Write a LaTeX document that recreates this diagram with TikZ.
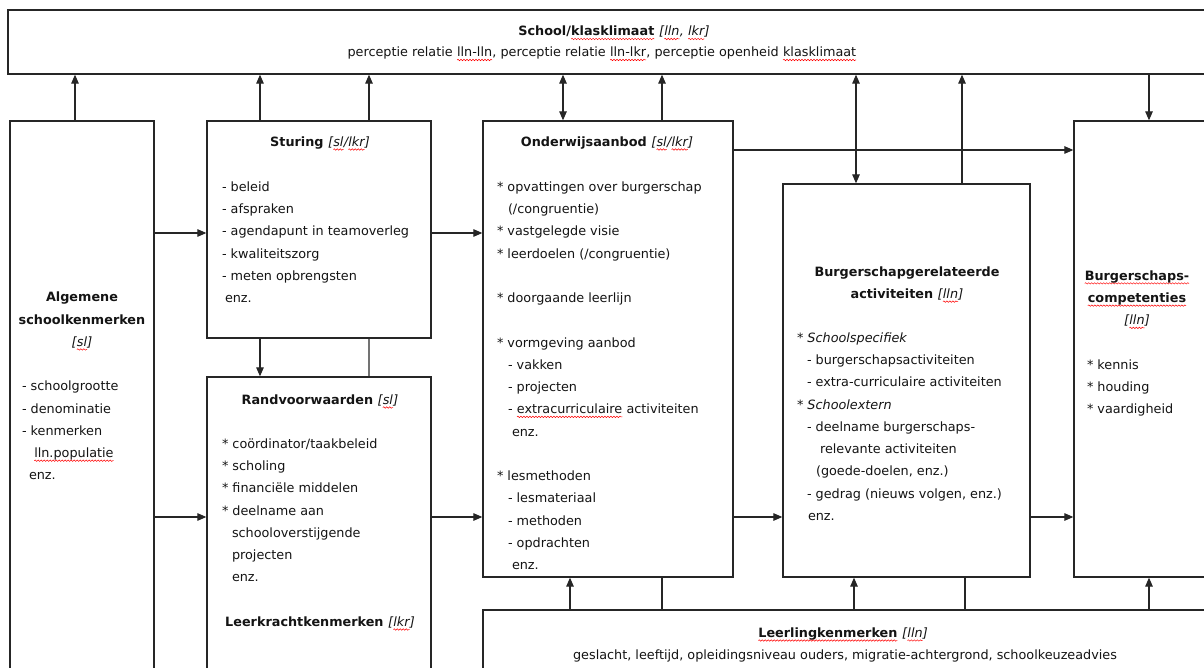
\documentclass[tikz,border=0pt]{standalone}
\usepackage{fontspec}
\setmainfont{DejaVu Sans}
\usepackage{xcolor}
\usetikzlibrary{arrows.meta,decorations.pathmorphing}
\definecolor{ink}{HTML}{141414}
\definecolor{edge}{HTML}{262626}
\tikzset{
  box/.style={draw=edge, line width=1.3pt, inner sep=0pt, fill=none},
  arr/.style={draw=edge, line width=1.2pt, -{Triangle[length=9pt,width=7.5pt]}},
  darr/.style={draw=edge, line width=1.2pt, {Triangle[length=9pt,width=7.5pt]}-{Triangle[length=9pt,width=7.5pt]}},
  plain/.style={draw=edge, line width=1.2pt},
  grayln/.style={draw=black!55, line width=1.2pt},
  wavy/.style={draw=red, line width=0.5pt, decorate, decoration={snake, amplitude=0.7pt, segment length=3pt}},
  txt/.style={inner sep=0pt, outer sep=0pt, align=left, text=ink, font=\fontsize{12.8}{22.25}\selectfont},
  ttl/.style={inner sep=0pt, outer sep=0pt, align=center, text=ink, font=\fontsize{12.8}{22.25}\selectfont\bfseries},
  ctr/.style={inner sep=0pt, outer sep=0pt, align=center, text=ink, font=\fontsize{12.8}{22.25}\selectfont}
}
\newcommand\spw[1]{\tikz[baseline=(spwn.base)]{\node[inner sep=0pt, outer sep=0pt, font={}, anchor=base] (spwn) at (0,0) {#1};\draw[wavy] ([yshift=-3pt]spwn.base west) -- ([yshift=-3pt]spwn.base east);}}
\newcommand\brk[1]{{\normalfont\itshape [#1]}}
\begin{document}
\begin{tikzpicture}[x=1pt,y=-1pt]
\path[use as bounding box, fill=white] (0,0) rectangle (1204,668);
\clip (0,0) rectangle (1204,668);

% boxes
\node[box, minimum width=1212pt, minimum height=64pt] (top) at (614,42) {};
\node[box, minimum width=144pt, minimum height=579pt] (alg) at (82,410.5) {};
\node[box, minimum width=224pt, minimum height=217pt] (stu) at (319,229.5) {};
\node[box, minimum width=224pt, minimum height=323pt] (rand) at (319,538.5) {};
\node[box, minimum width=250pt, minimum height=456pt] (ond) at (608,349) {};
\node[box, minimum width=247pt, minimum height=393pt] (bga) at (906.5,380.5) {};
\node[box, minimum width=146pt, minimum height=456pt] (bsc) at (1147,349) {};
\node[box, minimum width=737pt, minimum height=90pt] (lln) at (851.5,655) {};

% texts: top
\node[ttl, anchor=base] (ttop1) at (614,36) {School/\spw{klasklimaat} \brk{\spw{lln}, \spw{lkr}}};
\node[ctr, anchor=base] (ttop2) at (602,57) {perceptie relatie \spw{lln-lln}, perceptie relatie \spw{lln-lkr}, perceptie openheid \spw{klasklimaat}};

% Algemene
\node[ttl, anchor=north] (talg) at (82,286.4) {\strut Algemene\\schoolkenmerken\\\brk{\spw{sl}}};
\node[txt, anchor=north west] (lalg) at (22,375.4) {\strut - schoolgrootte\\- denominatie\\- kenmerken\\\hspace{12pt}\spw{lln.populatie}\\\hspace{7pt}enz.};

% Sturing
\node[ttl, anchor=base] (tstu) at (320,146.5) {Sturing \brk{\spw{sl}/\spw{lkr}}};
\node[txt, anchor=north west] (lstu) at (222,175.8) {\strut - beleid\\- afspraken\\- agendapunt in teamoverleg\\- kwaliteitszorg\\- meten opbrengsten\\\hspace{3pt}enz.};

% Randvoorwaarden
\node[ttl, anchor=base] (trand) at (320,404.5) {Randvoorwaarden \brk{\spw{sl}}};
\node[txt, anchor=north west] (lrand) at (222,432.8) {\strut * co\"ordinator/taakbeleid\\* scholing\\* financi\"ele middelen\\* deelname aan\\\hspace{10pt}schooloverstijgende\\\hspace{10pt}projecten\\\hspace{10pt}enz.};
\node[ttl, anchor=base] (tlkr) at (320,626.5) {Leerkrachtkenmerken \brk{\spw{lkr}}};

% Onderwijsaanbod
\node[ttl, anchor=base] (tond) at (607,146.5) {Onderwijsaanbod \brk{\spw{sl}/\spw{lkr}}};
\node[txt, anchor=north west] (lond) at (497,175.8) {\strut * opvattingen over burgerschap\\\hspace{11pt}(/congruentie)\\* vastgelegde visie\\* leerdoelen (/congruentie)\\[22.25pt]* doorgaande leerlijn\\[22.25pt]* vormgeving aanbod\\\hspace{11pt}- vakken\\\hspace{11pt}- projecten\\\hspace{11pt}- \spw{extracurriculaire} activiteiten\\\hspace{15pt}enz.\\[22.25pt]* lesmethoden\\\hspace{11pt}- lesmateriaal\\\hspace{11pt}- methoden\\\hspace{11pt}- opdrachten\\\hspace{15pt}enz.};

% Burgerschapgerelateerde activiteiten
\node[ttl, anchor=north] (tbga) at (907,260.8) {\strut Burgerschapgerelateerde\\activiteiten \brk{\spw{lln}}};
\node[txt, anchor=north west] (lbga) at (797,326.8) {\strut * \textit{Schoolspecifiek}\\\hspace{10pt}- burgerschapsactiviteiten\\\hspace{10pt}- extra-curriculaire activiteiten\\* \textit{Schoolextern}\\\hspace{10pt}- deelname burgerschaps-\\\hspace{23pt}relevante activiteiten\\\hspace{19pt}(goede-doelen, enz.)\\\hspace{10pt}- gedrag (nieuws volgen, enz.)\\\hspace{11pt}enz.};

% Burgerschapscompetenties
\node[ttl, anchor=north] (tbsc) at (1137,264.8) {\strut \spw{Burgerschaps-}\\\spw{competenties}\\\brk{\spw{lln}}};
\node[txt, anchor=north west] (lbsc) at (1087,353.8) {\strut * kennis\\* houding\\* vaardigheid};

% Leerlingkenmerken
\node[ttl, anchor=base] (tlln) at (843,637.5) {\spw{Leerlingkenmerken} \brk{\spw{lln}}};
\node[ctr, anchor=base] (llln) at (845,659.5) {geslacht, leeftijd, opleidingsniveau ouders, migratie-achtergrond, schoolkeuzeadvies};

% coordinates for connector positions
\coordinate (xa) at (75,0);
\coordinate (xb) at (260,0);
\coordinate (xc) at (369,0);
\coordinate (xd) at (563,0);
\coordinate (xe) at (662,0);
\coordinate (xf) at (856,0);
\coordinate (xg) at (962,0);
\coordinate (xh) at (1149,0);
\coordinate (xi) at (570,0);
\coordinate (xj) at (854,0);
\coordinate (xk) at (965,0);
\coordinate (ya) at (0,150);
\coordinate (yb) at (0,233);
\coordinate (yc) at (0,517);

% connectors to top box
\draw[arr] (alg.north -| xa) -- (top.south -| xa);
\draw[arr] (stu.north -| xb) -- (top.south -| xb);
\draw[arr] (stu.north -| xc) -- (top.south -| xc);
\draw[darr] (ond.north -| xd) -- (top.south -| xd);
\draw[arr] (ond.north -| xe) -- (top.south -| xe);
\draw[darr] (bga.north -| xf) -- (top.south -| xf);
\draw[arr] (bga.north -| xg) -- (top.south -| xg);
\draw[arr] (top.south -| xh) -- (bsc.north -| xh);

% horizontal connectors
\draw[arr] (alg.east |- yb) -- (stu.west |- yb);
\draw[arr] (alg.east |- yc) -- (rand.west |- yc);
\draw[arr] (stu.east |- yb) -- (ond.west |- yb);
\draw[arr] (rand.east |- yc) -- (ond.west |- yc);
\draw[arr] (ond.east |- ya) -- (bsc.west |- ya);
\draw[arr] (ond.east |- yc) -- (bga.west |- yc);
\draw[arr] (bga.east |- yc) -- (bsc.west |- yc);

% Sturing to Randvoorwaarden
\draw[arr] (stu.south -| xb) -- (rand.north -| xb);
\draw[grayln] (stu.south -| xc) -- (rand.north -| xc);

% Leerlingkenmerken upward
\draw[arr] (lln.north -| xi) -- (ond.south -| xi);
\draw[plain] (lln.north -| xe) -- (ond.south -| xe);
\draw[arr] (lln.north -| xj) -- (bga.south -| xj);
\draw[plain] (lln.north -| xk) -- (bga.south -| xk);
\draw[arr] (lln.north -| xh) -- (bsc.south -| xh);
\end{tikzpicture}
\end{document}
